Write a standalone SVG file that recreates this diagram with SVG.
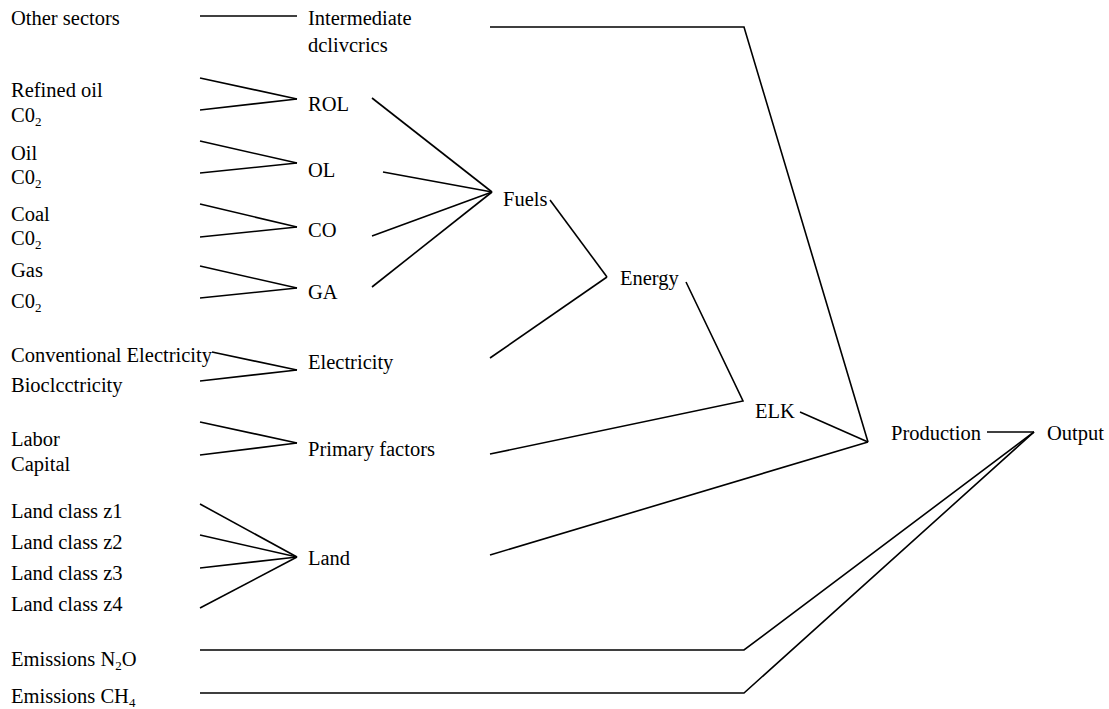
<svg xmlns="http://www.w3.org/2000/svg" width="1109" height="709" viewBox="0 0 1109 709">
<style>
text{font-family:'Liberation Serif','Times New Roman',Times,'DejaVu Serif',serif;font-size:20.5px;fill:#000}
.sub{font-size:13px}
#connectors line,#connectors polyline{stroke:#000;stroke-width:1.6;fill:none}
</style>
<rect width="1109" height="709" fill="#fff"/>
<g id="connectors">
<line x1="200" y1="16" x2="297" y2="16"/>
<polyline points="490,27 744,27 868,442"/>
<line x1="200" y1="78" x2="297" y2="99"/>
<line x1="200" y1="110" x2="297" y2="99"/>
<line x1="372" y1="98" x2="492" y2="192"/>
<line x1="200" y1="141" x2="297" y2="163"/>
<line x1="200" y1="173" x2="297" y2="163"/>
<line x1="383" y1="172" x2="492" y2="192"/>
<line x1="200" y1="204" x2="297" y2="227"/>
<line x1="200" y1="237" x2="297" y2="227"/>
<line x1="372" y1="236" x2="492" y2="192"/>
<line x1="200" y1="266" x2="297" y2="288"/>
<line x1="200" y1="298" x2="297" y2="288"/>
<line x1="372" y1="287" x2="492" y2="192"/>
<line x1="550" y1="200" x2="607" y2="277"/>
<line x1="490" y1="358" x2="607" y2="277"/>
<line x1="212" y1="352" x2="297" y2="370"/>
<line x1="200" y1="381" x2="297" y2="370"/>
<polyline points="686,282 743,401 490,454"/>
<line x1="200" y1="422" x2="297" y2="443"/>
<line x1="200" y1="455" x2="297" y2="443"/>
<line x1="800" y1="412" x2="868" y2="442"/>
<line x1="490" y1="555" x2="868" y2="442"/>
<line x1="200" y1="504" x2="297" y2="557"/>
<line x1="200" y1="535" x2="297" y2="557"/>
<line x1="200" y1="568" x2="297" y2="557"/>
<line x1="200" y1="608" x2="297" y2="557"/>
<line x1="987" y1="432" x2="1034" y2="432"/>
<polyline points="200,650 744,650 1034,432"/>
<polyline points="200,693 744,693 1034,432"/>
</g>
<g id="n-other"><text x="11" y="25">Other sectors</text></g>
<g id="n-intermediate"><text x="308" y="25">Intermediate</text><text x="308" y="52">dclivcrics</text></g>
<g id="n-refined"><text x="11" y="97">Refined oil</text><text x="11" y="122">C0<tspan class="sub" dy="4">2</tspan></text></g>
<g id="n-rol"><text x="308" y="111">ROL</text></g>
<g id="n-oil"><text x="11" y="160">Oil</text><text x="11" y="184">C0<tspan class="sub" dy="4">2</tspan></text></g>
<g id="n-ol"><text x="308" y="177">OL</text></g>
<g id="n-coal"><text x="11" y="221">Coal</text><text x="11" y="245">C0<tspan class="sub" dy="4">2</tspan></text></g>
<g id="n-co"><text x="308" y="237">CO</text></g>
<g id="n-gas"><text x="11" y="277">Gas</text><text x="11" y="308">C0<tspan class="sub" dy="4">2</tspan></text></g>
<g id="n-ga"><text x="308" y="299">GA</text></g>
<g id="n-conv"><text x="11" y="362">Conventional Electricity</text><text x="11" y="392">Bioclcctricity</text></g>
<g id="n-electricity"><text x="308" y="369">Electricity</text></g>
<g id="n-labor"><text x="11" y="446">Labor</text><text x="11" y="471">Capital</text></g>
<g id="n-primary"><text x="308" y="456">Primary factors</text></g>
<g id="n-landclass"><text x="11" y="518">Land class z1</text><text x="11" y="549">Land class z2</text><text x="11" y="580">Land class z3</text><text x="11" y="611">Land class z4</text></g>
<g id="n-land"><text x="308" y="565">Land</text></g>
<g id="n-n2o"><text x="11" y="666">Emissions N<tspan class="sub" dy="4">2</tspan><tspan dy="-4">O</tspan></text></g>
<g id="n-ch4"><text x="11" y="703">Emissions CH<tspan class="sub" dy="4">4</tspan></text></g>
<g id="n-fuels"><text x="503" y="206">Fuels</text></g>
<g id="n-energy"><text x="620" y="285">Energy</text></g>
<g id="n-elk"><text x="755" y="418">ELK</text></g>
<g id="n-production"><text x="891" y="440">Production</text></g>
<g id="n-output"><text x="1047" y="440">Output</text></g>
</svg>
